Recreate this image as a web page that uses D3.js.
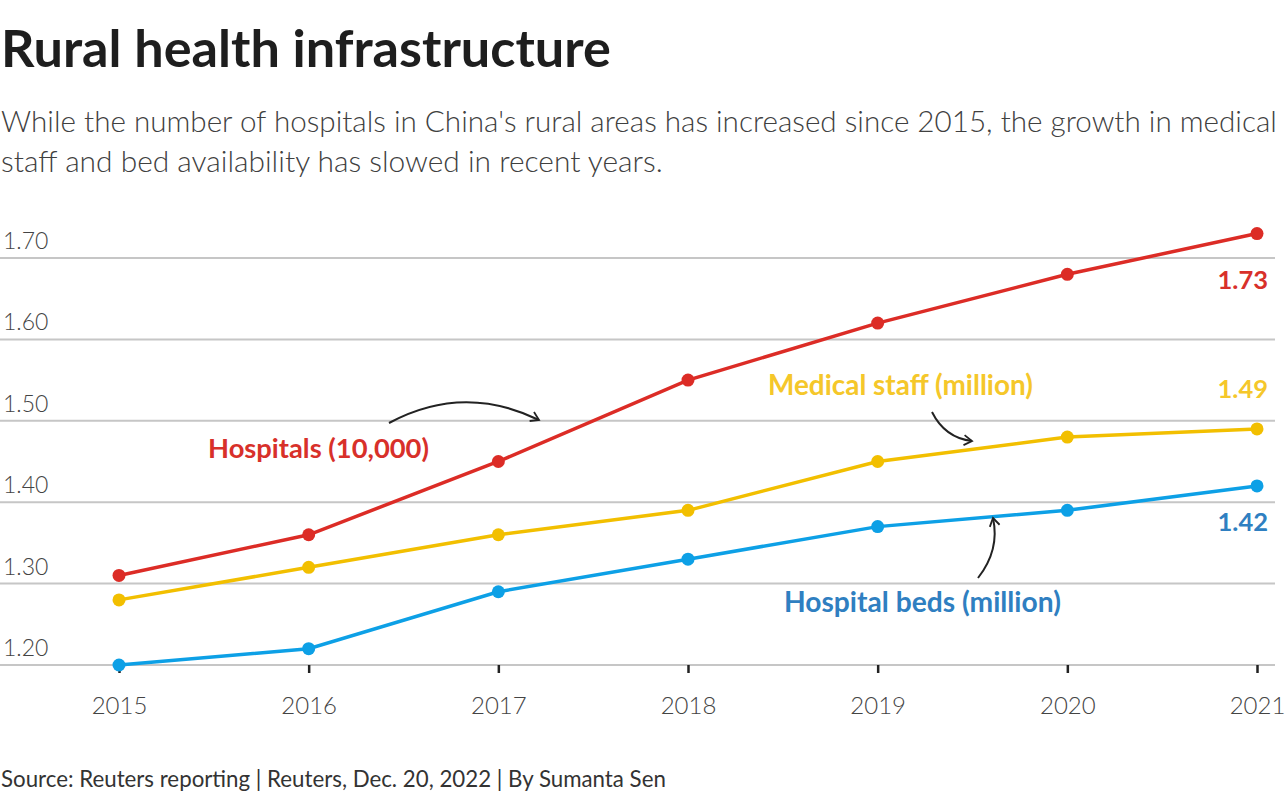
<!DOCTYPE html>
<html>
<head>
<meta charset="utf-8">
<script src="https://cdn.jsdelivr.net/npm/d3@7"></script>
<style>
  html, body { margin: 0; padding: 0; background: #fff; }
  svg { display: block; font-family: Lato, "Noto Sans", sans-serif; }
</style>
</head>
<body>
<svg id="chart" width="1288" height="800"></svg>
<script>
const years = [2015, 2016, 2017, 2018, 2019, 2020, 2021];
const hospitals = [1.31, 1.36, 1.45, 1.55, 1.62, 1.68, 1.73];
const medicalStaff = [1.28, 1.32, 1.36, 1.39, 1.45, 1.48, 1.49];
const hospitalBeds = [1.20, 1.22, 1.29, 1.33, 1.37, 1.39, 1.42];
const yTicks = [1.20, 1.30, 1.40, 1.50, 1.60, 1.70];
const seriesNames = ["Hospitals (10,000)", "Medical staff (million)", "Hospital beds (million)"];
const titleText = "Rural health infrastructure";
const subtitleLines = [
  "While the number of hospitals in China's rural areas has increased since 2015, the growth in medical",
  "staff and bed availability has slowed in recent years."
];
const sourceText = "Source: Reuters reporting | Reuters, Dec. 20, 2022 | By Sumanta Sen";

const svg = d3.select("#chart");

function fit(sel, w) {
  const node = sel.node();
  const cur = parseFloat(sel.attr("font-size"));
  const len = node.getComputedTextLength();
  sel.attr("font-size", (cur * w / len).toFixed(2));
}

// Title & subtitle
fit(svg.append("text").attr("x", 1).attr("y", 67).attr("font-size", 46)
  .attr("font-weight", 700).attr("fill", "#1e1e1e").text(titleText), 610);
const subW = [1276, 662];
subtitleLines.forEach((t, i) => {
  fit(svg.append("text").attr("x", 1).attr("y", 132 + i * 40).attr("font-size", 27)
    .attr("font-weight", 300).attr("fill", "#404040").text(t), subW[i]);
});

const x = d3.scaleLinear().domain([2015, 2021]).range([119, 1257]);
const y = d3.scaleLinear().domain([1.20, 1.70]).range([665, 258]);

// grid
const grid = svg.append("g");
grid.selectAll("line").data(yTicks).join("line")
  .attr("x1", 0).attr("x2", 1275)
  .attr("y1", d => y(d)).attr("y2", d => y(d))
  .attr("stroke", "#c6c6c6").attr("stroke-width", 2);
grid.selectAll("text").data(yTicks).join("text")
  .attr("x", 3).attr("y", d => y(d) - 9)
  .attr("font-size", 23).attr("font-weight", 300).attr("fill", "#444")
  .text(d => d3.format(".2f")(d));

// x axis
const xAxis = svg.append("g").attr("transform", `translate(0,${y(1.20)})`)
  .call(d3.axisBottom(x).tickValues(years).tickFormat(d3.format("d")).tickSize(8).tickPadding(24));
xAxis.select(".domain").remove();
xAxis.selectAll(".tick line").attr("stroke", "#222").attr("stroke-width", 2.5);
xAxis.selectAll(".tick text").attr("font-size", 24).attr("font-weight", 300)
  .attr("fill", "#444").attr("font-family", "Lato, sans-serif");

const series = [
  { name: seriesNames[0], values: hospitals, color: "#dc2c26" },
  { name: seriesNames[1], values: medicalStaff, color: "#f2bf00" },
  { name: seriesNames[2], values: hospitalBeds, color: "#0da0e6" }
];
const line = d3.line().x((d, i) => x(years[i])).y(d => y(d));
series.slice().reverse().forEach(s => {
  const g = svg.append("g");
  g.append("path").attr("d", line(s.values)).attr("fill", "none")
    .attr("stroke", s.color).attr("stroke-width", 3.5);
  g.selectAll("circle").data(s.values).join("circle")
    .attr("cx", (d, i) => x(years[i])).attr("cy", d => y(d)).attr("r", 6.5)
    .attr("fill", s.color);
});

// end labels
const endLabels = [
  { v: hospitals[6], dy: 55, color: "#d8302a" },
  { v: medicalStaff[6], dy: -31, color: "#f5c72a" },
  { v: hospitalBeds[6], dy: 45, color: "#2f7fc1" }
];
endLabels.forEach(l => {
  svg.append("text").attr("x", 1268).attr("y", y(l.v) + l.dy)
    .attr("text-anchor", "end").attr("font-size", 25.5).attr("font-weight", 700)
    .attr("fill", l.color).text(d3.format(".2f")(l.v));
});

// series labels
fit(svg.append("text").attr("x", 208).attr("y", 458).attr("font-size", 24).attr("font-weight", 700)
  .attr("fill", "#d8302a").text(seriesNames[0]), 221);
fit(svg.append("text").attr("x", 768).attr("y", 395).attr("font-size", 24).attr("font-weight", 700)
  .attr("fill", "#f5c72a").text(seriesNames[1]), 265);
fit(svg.append("text").attr("x", 784).attr("y", 612).attr("font-size", 24).attr("font-weight", 700)
  .attr("fill", "#2f7fc1").text(seriesNames[2]), 277);

// arrows
svg.append("defs").append("marker").attr("id", "ah")
  .attr("viewBox", "0 0 12 12").attr("refX", 10).attr("refY", 6)
  .attr("markerWidth", 12).attr("markerHeight", 12).attr("markerUnits", "userSpaceOnUse")
  .attr("orient", "auto")
  .append("path").attr("d", "M2,1 L10,6 L2,11").attr("fill", "none")
  .attr("stroke", "#222").attr("stroke-width", 1.8);
const arrows = [
  "M389,423 Q463,383 539,420",
  "M932,412 Q945,438 972,441",
  "M978,578 Q1000,550 993,518"
];
arrows.forEach(d => svg.append("path").attr("d", d).attr("fill", "none")
  .attr("stroke", "#222").attr("stroke-width", 2).attr("marker-end", "url(#ah)"));

// source
fit(svg.append("text").attr("x", 1).attr("y", 787).attr("font-size", 20)
  .attr("fill", "#333").text(sourceText), 665);
</script>
</body>
</html>
